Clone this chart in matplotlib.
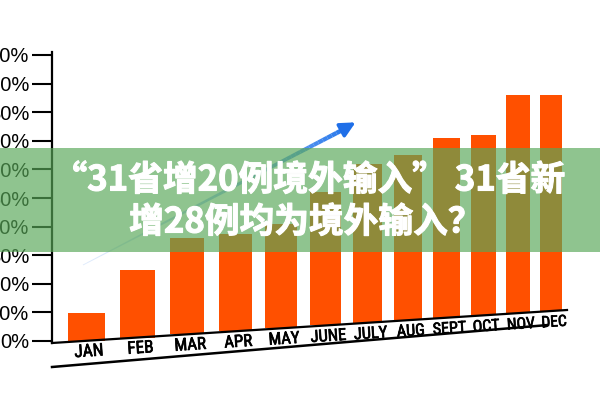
import numpy as np
import matplotlib.pyplot as plt
from matplotlib import font_manager
from matplotlib import patheffects
from matplotlib.collections import LineCollection
from matplotlib.patches import Rectangle

months = ['JAN', 'FEB', 'MAR', 'APR', 'MAY', 'JUNE', 'JULY', 'AUG', 'SEPT', 'OCT', 'NOV', 'DEC']
# bar top levels read against the (cut off) percent axis
values = [9.8, 24.8, 36.0, 37.5, 41.0, 52.0, 62.0, 65.0, 71.0, 72.0, 86.0, 86.0]
yticks = [0, 10, 20, 30, 40, 50, 60, 70, 80, 90, 100]
title_lines = ['“31省增20例境外输入” 31省新', '增28例均为境外输入？']

W, H = 600, 400
fig = plt.figure(figsize=(6, 4), dpi=100)
fig.patch.set_facecolor('white')

# axes laid out in pixel terms: y axis at x=52, 0% at y=341, 100% at y=55
ax = fig.add_axes([52 / W, (H - 341) / H, (W - 52) / W, 286 / H])
ax.set_xlim(52, 600)
ax.set_ylim(0, 100)
px_per_pct = 286 / 100


def pct(py):
    # pixel row -> percent on the axis
    return (341 - py) / px_per_pct


for s in ['top', 'right', 'bottom']:
    ax.spines[s].set_visible(False)
ax.spines['left'].set_linewidth(1.6)
ax.spines['left'].set_bounds(pct(343), pct(52))
ax.set_xticks([])
ax.set_yticks(yticks)
ax.set_yticklabels([f'{v}%' for v in yticks], fontsize=14.5, family='Liberation Sans')
ax.tick_params(axis='y', length=14.5, width=1.5, pad=2)

# the chart is drawn in a slight perspective: baseline rises to the right
idx = np.arange(len(months))
xs = 86 + 52.5 * idx - 0.93 * idx ** 2
widths = 37 - 1.3 * idx
base_x0, base_y0, base_x1, base_y1 = 52, 343, 567, 310


def base_row(x):
    return base_y0 + (base_y1 - base_y0) * (x - base_x0) / (base_x1 - base_x0)


bottoms = np.array([pct(base_row(x)) for x in xs])
ax.bar(xs, np.array(values) - bottoms, bottom=bottoms, width=widths,
       color='#ff5000', clip_on=False, zorder=2)

ax.plot([base_x0, base_x1], [pct(base_y0), pct(base_y1)], color='black', lw=1.6,
        clip_on=False, zorder=3)
ax.plot([52, 548], [pct(367), pct(325)], color='black', lw=1.8, clip_on=False, zorder=3)

names = {f.name for f in font_manager.fontManager.ttflist}
month_font = 'DejaVu Sans'
for cand in ['Liberation Sans Narrow', 'Roboto Condensed', 'Open Sans Condensed',
             'DejaVu Sans Condensed']:
    if cand in names:
        month_font = cand
        break
narrow = month_font != 'DejaVu Sans'
angle = np.degrees(np.arctan((base_y0 - base_y1) / (base_x1 - base_x0)))
for i, (x, m) in enumerate(zip(xs, months)):
    size = (12.5 if narrow else 10.5) - 0.12 * i
    ax.text(x + 3, pct(base_row(x) + 11), m, ha='center', va='center', rotation=angle,
            fontsize=size, family=month_font, clip_on=False,
            path_effects=[patheffects.withStroke(linewidth=0.5, foreground='black')])

# trend arrow fading in from the left
ax0, ay0, ax1, ay1 = 83, 265, 350, 126
t = np.linspace(0, 1, 60)
sx = ax0 + (ax1 - ax0) * t
sy = pct(ay0 + (ay1 - ay0) * t)
segs = np.stack([np.column_stack([sx[:-1], sy[:-1]]), np.column_stack([sx[1:], sy[1:]])], axis=1)
cols = [(0.12, 0.45, 0.92, 0.15 + 0.85 * v ** 1.5) for v in t[:-1]]
lws = 0.6 + 2.8 * t[:-1]
ax.add_collection(LineCollection(segs, colors=cols, linewidths=lws, zorder=3))
ax.annotate('', xy=(358, pct(121)), xytext=(340, pct(131)),
            arrowprops=dict(arrowstyle='-|>,head_length=0.9,head_width=0.45',
                            color='#1f6fe8', lw=2.5), zorder=3)

# green banner with the headline
fig.add_artist(Rectangle((0, (H - 252) / H), 1, 104 / H, transform=fig.transFigure,
                         facecolor=(88 / 255, 167 / 255, 88 / 255), alpha=0.67,
                         edgecolor='none', zorder=5))
cjk = ['Noto Sans CJK SC', 'DejaVu Sans']
bold = [patheffects.withStroke(linewidth=0.8, foreground='white')]
fig.text(309 / W, (H - 180) / H, title_lines[0], ha='center', va='center', color='white',
         fontsize=25, fontweight='bold', family=cjk, zorder=6, path_effects=bold)
fig.text(306 / W, (H - 222) / H, title_lines[1], ha='center', va='center', color='white',
         fontsize=25, fontweight='bold', family=cjk, zorder=6, path_effects=bold)

fig.savefig('out.png', dpi=100)
